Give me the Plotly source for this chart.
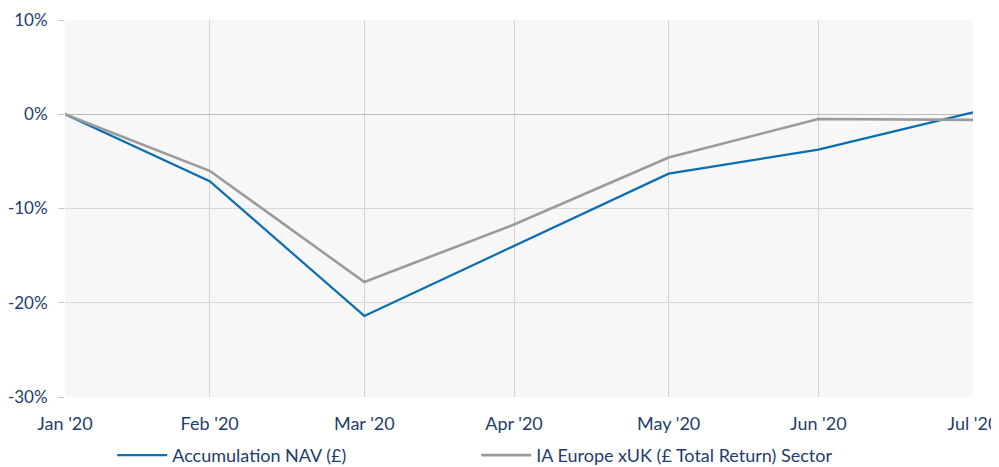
import plotly.graph_objects as go

dates = ["2020-01-31", "2020-02-29", "2020-03-31", "2020-04-30", "2020-05-31", "2020-06-30", "2020-07-31"]
tick_labels = ["Jan '20", "Feb '20", "Mar '20", "Apr '20", "May '20", "Jun '20", "Jul '20"]
nav = [0.0, -7.1, -21.4, -14.0, -6.3, -3.75, 0.2]
sector = [0.0, -6.0, -17.8, -11.7, -4.6, -0.5, -0.6]
y_ticks = [-30, -20, -10, 0, 10]
y_labels = ["-30%", "-20%", "-10%", "0%", "10%"]

text_color = "#1f3d6b"
font_family = "Lato, 'Open Sans', sans-serif"

fig = go.Figure()
fig.add_trace(go.Scatter(x=dates, y=nav, mode="lines", name="Accumulation NAV (£)",
                         line=dict(color="#0a6eb0", width=2.2)))
fig.add_trace(go.Scatter(x=dates, y=sector, mode="lines", name="IA Europe xUK (£ Total Return) Sector",
                         line=dict(color="#9b9b9b", width=2.6)))

# page body has an 8px default margin; margins compensate for it
fig.update_layout(
    width=999, height=467,
    margin=dict(l=57, r=34, t=12, b=78, autoexpand=False),
    paper_bgcolor="white",
    plot_bgcolor="#f7f7f7",
    font=dict(family=font_family, size=18, color=text_color),
    showlegend=True,
    legend=dict(orientation="h", x=0.052, xanchor="left", y=-0.106, yanchor="top",
                entrywidth=299, entrywidthmode="pixels", itemwidth=50,
                font=dict(size=18, color=text_color), bgcolor="rgba(0,0,0,0)"),
    xaxis=dict(type="date", range=[dates[0], dates[-1]], tickvals=dates, ticktext=tick_labels,
               showgrid=True, gridcolor="#d2d2d2", gridwidth=1, ticks="", showline=False,
               zeroline=False, automargin=False, ticklabelstandoff=14,
               tickfont=dict(size=18, color=text_color)),
    yaxis=dict(range=[-30, 10], tickvals=y_ticks, ticktext=y_labels, showgrid=True,
               gridcolor="#d9d9d9", gridwidth=1, zeroline=True, zerolinecolor="#bdbdbd",
               zerolinewidth=1, ticks="outside", ticklen=6, tickcolor="#c8c8c8",
               automargin=False, ticklabelstandoff=7,
               tickfont=dict(size=17, color=text_color), showline=False),
)

fig.write_html("out.html")
